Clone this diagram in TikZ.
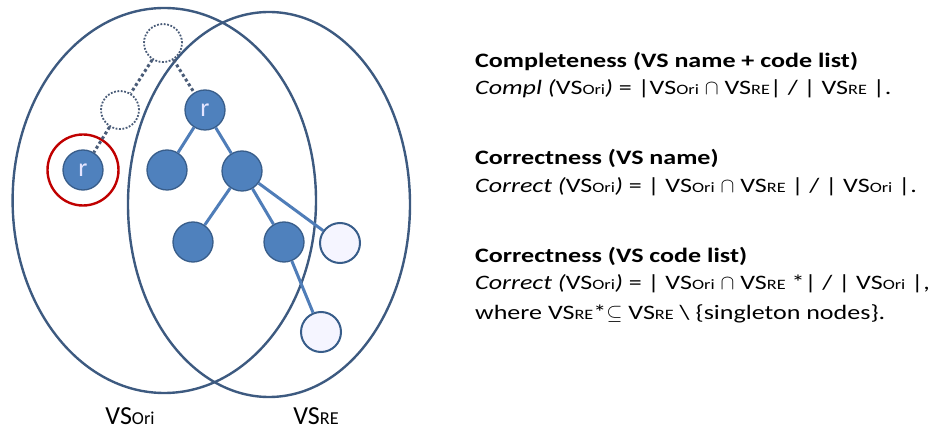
\documentclass[tikz,border=0pt]{standalone}
\usepackage{fontspec}
\setmainfont{Carlito}
\newfontfamily\wide[FakeStretch=1.27]{Carlito}
\usetikzlibrary{positioning}
\definecolor{setline}{HTML}{3D5A80}
\definecolor{nodefill}{HTML}{4F81BD}
\definecolor{nodeline}{HTML}{385D8A}
\definecolor{treeline}{HTML}{4F7DB8}
\definecolor{ghostline}{HTML}{4A5C78}
\definecolor{ringred}{HTML}{C00000}
\newcommand{\sm}[1]{\scalebox{0.7}{#1}}
\newcommand{\VSori}{VS\sm{Ori}}
\newcommand{\VSre}{VS\sm{RE}}
\tikzset{
	vnode/.style={circle, minimum size=40pt, inner sep=0pt, fill=nodefill, draw=nodeline, line width=1.3pt, text=blue!10, font=\fontsize{26}{26}\selectfont},
	leaf/.style={vnode, fill=blue!4, line width=2pt},
	ghost/.style={vnode, minimum size=38pt, fill=white, fill opacity=0.7, draw=ghostline, line width=1.8pt, dash pattern=on 1.8pt off 1.6pt},
	edge/.style={treeline, line width=3pt},
	ghostedge/.style={ghostline, line width=3pt, dash pattern=on 3pt off 2.6pt},
	vset/.style={setline, line width=2.4pt},
	setlabel/.style={anchor=base, inner sep=0pt, text depth=0pt, font=\fontsize{26}{26}\selectfont},
	hd/.style={anchor=base west, inner sep=0pt, font=\wide\fontsize{20.5}{24}\selectfont\bfseries},
	fm/.style={anchor=base west, inner sep=0pt, font=\wide\fontsize{20.5}{24}\selectfont},
}
\begin{document}
\begin{tikzpicture}[x=1pt,y=-1pt]
\useasboundingbox (0,0) rectangle (948,430);

\draw[vset] (164.3,200.5) ellipse [x radius=151.7pt, y radius=192.5pt];
\draw[vset] (269,204.5) ellipse [x radius=141pt, y radius=192.5pt];

\node[ghost] (g1) at (163,43) {};
\node[ghost] (g2) at (120,110) {};
\node[vnode] (rOri) at (83,170) {r};
\node[vnode] (rRE) at (205,110) {r};
\node[vnode] (a) at (167,170) {};
\node[vnode] (b) at (242,171) {};
\node[vnode] (c) at (193,242) {};
\node[vnode] (d) at (284,242) {};
\node[leaf] (e) at (340,243) {};
\node[leaf] (f) at (321,332) {};
\draw[ringred, line width=2.4pt] (rOri.center) circle (35.5pt);

\draw[ghostedge] (g1) -- (rRE) (g1) -- (g2) (g2) -- (rOri);
\draw[edge] (rRE) -- (a) (rRE) -- (b) (b) -- (c) (b) -- (d) (b) -- (e) (d) -- (f);

\node[setlabel] (lOri) at (130,424) {\VSori};
\node[setlabel] (lRE) at (316,424) {\VSre};

\node[hd] (h1) at (475,68) {Completeness (VS name + code list)};
\node[fm] (f1) at (475,95) {\textit{Compl (}\VSori\textit{)} = |\VSori{} \ensuremath{\cap} \VSre| / | \VSre{} |.};
\node[hd] (h2) at (475,165) {Correctness (VS name)};
\node[fm] (f2) at (475,193) {\textit{Correct (}\VSori\textit{)} = | \VSori{} \ensuremath{\cap} \VSre{} | / | \VSori{} |.};
\node[hd] (h3) at (475,263) {Correctness (VS code list)};
\node[fm] (f3) at (475,290) {\textit{Correct (}\VSori\textit{)} = | \VSori{} \ensuremath{\cap} \VSre{} *| / | \VSori{} |,};
\node[fm] (f4) at (475,320) {where \VSre*\ensuremath{\subseteq} \VSre{} \textbackslash{} \{singleton nodes\}.};
\end{tikzpicture}
\end{document}
